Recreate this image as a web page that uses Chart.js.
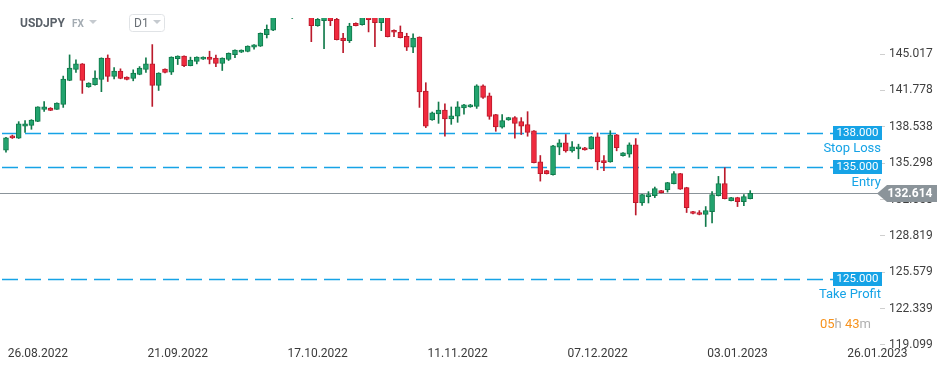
<!DOCTYPE html>
<html>
<head>
<meta charset="utf-8">
<script src="https://cdn.jsdelivr.net/npm/chart.js@4.4.0/dist/chart.umd.min.js"></script>
<style>
html, body { margin: 0; padding: 0; background: #fff; }
canvas { display: block; }
</style>
</head>
<body>
<canvas id="graficoUsdJpy" width="949" height="370"></canvas>
<script>
// velas diarias USDJPY
const opens = [136.45,137.73,137.52,138.59,138.67,139.03,140.10,140.22,140.10,140.54,
  142.67,143.65,144.15,142.09,142.29,142.76,144.66,143.03,143.51,142.97,
  142.85,143.20,143.65,144.15,142.23,143.68,143.42,144.62,144.84,144.00,
  144.36,144.57,144.75,144.66,144.18,144.54,144.98,145.19,145.25,145.64,
  145.73,146.76,147.15,148.70,149.30,148.80,149.60,150.10,149.50,147.56,
  148.00,148.50,148.12,146.44,146.22,147.77,147.64,148.30,148.50,147.82,
  148.50,147.15,146.97,146.61,145.64,146.53,141.73,139.15,139.69,140.04,
  139.24,139.49,140.22,140.31,140.36,142.20,141.31,139.62,138.50,139.15,
  139.36,139.00,138.74,138.18,135.42,134.63,134.27,136.72,137.11,136.40,
  136.58,136.67,136.58,137.64,135.54,135.41,137.83,135.96,136.10,136.93,
  131.75,132.32,132.40,132.85,132.94,133.47,134.36,133.12,130.98,130.90,
  130.72,130.98,132.40,133.47,131.96,132.23,131.87,132.14];
const highs = [137.60,137.80,139.00,139.09,139.18,140.33,140.78,140.25,140.68,143.06,
  144.95,144.51,144.18,142.47,143.53,144.69,144.95,143.83,143.71,143.00,
  143.62,143.91,144.69,145.87,143.36,143.71,144.78,144.87,144.87,144.75,
  144.78,144.78,145.28,144.93,144.69,145.13,145.40,145.40,145.76,145.87,
  146.91,147.62,149.00,149.90,150.20,150.00,150.50,151.90,151.50,148.20,
  148.90,148.80,148.90,146.88,147.77,147.80,148.70,148.60,148.90,148.70,
  148.90,147.18,147.53,146.88,146.82,146.56,142.47,139.86,140.75,140.58,
  140.31,140.78,140.54,140.54,142.29,142.29,141.55,139.65,139.62,139.39,
  139.45,139.36,139.89,138.21,135.98,134.66,136.88,137.40,137.85,137.23,
  136.99,136.70,137.67,138.00,135.97,138.19,137.86,136.25,137.11,137.49,
  132.52,132.76,133.17,132.88,133.59,134.54,134.39,133.15,131.01,131.07,
  131.43,132.76,134.12,134.89,132.26,132.26,132.49,132.85];
const lows = [136.28,137.50,137.50,138.05,138.32,139.00,139.92,139.98,140.08,140.27,
  142.65,143.38,141.52,142.06,142.26,141.67,142.58,142.82,142.82,142.73,
  142.64,143.18,143.38,140.36,141.78,143.35,143.20,144.09,143.91,143.97,
  144.15,144.54,144.15,143.91,143.56,144.45,144.71,145.16,145.22,145.46,
  145.70,146.46,147.12,148.50,148.60,148.20,148.90,149.00,146.13,147.50,
  145.51,147.56,146.28,145.16,146.05,147.53,147.60,147.00,145.69,147.11,
  146.55,146.58,146.46,145.34,145.16,140.27,138.47,139.12,138.85,137.70,
  138.76,138.94,139.67,140.28,140.18,141.07,139.21,138.14,138.41,139.12,
  137.52,137.85,137.70,135.31,133.70,134.33,134.24,136.05,136.28,136.28,
  135.69,136.46,136.55,134.71,134.63,135.38,136.40,135.93,135.83,130.68,
  131.54,131.75,132.23,132.64,132.72,133.44,132.96,130.90,130.78,130.69,
  129.65,129.97,132.37,132.11,131.93,131.43,131.52,132.11];
const closes = [137.56,137.56,138.80,138.80,139.15,140.31,140.31,140.01,140.66,142.80,
  143.77,144.15,142.67,142.44,142.88,144.66,143.03,143.51,142.85,142.76,
  143.33,143.77,144.15,142.23,143.33,143.38,144.75,144.84,144.00,144.48,
  144.75,144.75,144.54,144.18,144.66,145.10,145.37,145.37,145.73,145.84,
  146.88,147.24,148.70,149.50,149.90,149.60,150.10,150.50,147.56,148.12,
  148.60,148.00,146.31,146.22,147.53,147.56,148.40,148.09,147.82,148.40,
  146.58,146.97,146.49,145.64,146.44,141.64,138.59,139.78,140.04,139.24,
  139.51,140.31,140.51,140.51,142.20,141.16,139.47,138.53,139.09,139.36,
  138.85,138.59,138.05,135.34,134.36,134.36,136.85,137.11,136.40,136.76,
  136.76,136.49,137.64,135.42,135.34,137.83,136.67,136.22,136.93,131.78,
  132.49,132.49,133.03,132.67,133.56,134.36,132.99,131.34,130.81,130.72,
  131.07,132.49,133.47,132.14,132.23,131.87,132.32,132.614];

// etiquetas de fecha y su posicion (indice de vela)
const fechaIndices = [5, 27, 49, 71, 93, 115, 137];
const fechaLabels = ['26.08.2022', '21.09.2022', '17.10.2022', '11.11.2022', '07.12.2022', '03.01.2023', '26.01.2023'];

// ticks del eje de precios
const precioTicks = [119.099, 122.339, 125.579, 128.819, 132.058, 135.298, 138.538, 141.778, 145.017];

// niveles de la operacion
const nivelValores = [138.000, 135.000, 125.000];
const nivelNombres = ['Stop Loss', 'Entry', 'Take Profit'];
const precioActual = 132.614;

const VERDE = '#22a36e', VERDE_BORDE = '#117a4b';
const ROJO = '#f02a3e', ROJO_BORDE = '#bb1a2c';
const AZUL = '#16a3e6';
const GRIS = '#8b949a';
const FUENTE = 'Roboto, "Open Sans", sans-serif';

const indices = opens.map((o, i) => i);
const subida = i => closes[i] >= opens[i];

const overlay = {
    id: 'overlay',
    beforeDatasetsDraw(chart) {
        const { ctx, chartArea, scales: { y } } = chart;
        ctx.save();
        ctx.lineWidth = 1.3;
        ctx.strokeStyle = AZUL;
        ctx.setLineDash([16, 7]);
        nivelValores.forEach(v => {
            const py = Math.round(y.getPixelForValue(v)) + 0.5;
            ctx.beginPath();
            ctx.moveTo(chartArea.left + 2, py);
            ctx.lineTo(833, py);
            ctx.stroke();
        });
        ctx.setLineDash([]);
        ctx.lineWidth = 1;
        const cy = Math.round(y.getPixelForValue(precioActual)) + 0.5;
        ctx.strokeStyle = GRIS;
        ctx.beginPath();
        ctx.moveTo(chartArea.left, cy);
        ctx.lineTo(878, cy);
        ctx.stroke();
        ctx.restore();
    },
    afterDraw(chart) {
        const { ctx, scales: { y } } = chart;
        ctx.save();

        // cajas de niveles
        nivelValores.forEach((v, k) => {
            const py = Math.round(y.getPixelForValue(v));
            ctx.fillStyle = AZUL;
            ctx.fillRect(833, py - 7, 49, 14);
            ctx.fillStyle = '#fff';
            ctx.font = '11.5px ' + FUENTE;
            ctx.textAlign = 'center';
            ctx.textBaseline = 'middle';
            ctx.fillText(v.toFixed(3), 857.5, py + 0.5);
            ctx.fillStyle = AZUL;
            ctx.font = '13px ' + FUENTE;
            ctx.textAlign = 'right';
            ctx.fillText(nivelNombres[k], 881, py + 16);
        });

        // etiqueta precio actual
        const cy = Math.round(y.getPixelForValue(precioActual)) + 0.5;
        ctx.fillStyle = GRIS;
        ctx.beginPath();
        ctx.moveTo(877, cy);
        ctx.lineTo(887, cy - 8.5);
        ctx.lineTo(937, cy - 8.5);
        ctx.lineTo(937, cy + 8.5);
        ctx.lineTo(887, cy + 8.5);
        ctx.closePath();
        ctx.fill();
        ctx.fillStyle = '#fff';
        ctx.font = 'bold 12px ' + FUENTE;
        ctx.textAlign = 'center';
        ctx.textBaseline = 'middle';
        ctx.fillText(precioActual.toFixed(3), 910, cy + 0.5);

        // cabecera
        ctx.textAlign = 'left';
        ctx.fillStyle = '#5a6169';
        ctx.font = 'bold 12px ' + FUENTE;
        ctx.fillText('USDJPY', 20, 23.5);
        ctx.fillStyle = '#a3abb2';
        ctx.font = 'bold 10px ' + FUENTE;
        ctx.fillText('FX', 72, 24);
        ctx.fillStyle = '#c5cacf';
        ctx.beginPath();
        ctx.moveTo(89, 20); ctx.lineTo(97, 20); ctx.lineTo(93, 24); ctx.closePath();
        ctx.fill();
        ctx.strokeStyle = '#e0e3e6';
        ctx.lineWidth = 1;
        ctx.beginPath();
        ctx.roundRect(129.5, 14.5, 35, 17, 3);
        ctx.stroke();
        ctx.fillStyle = '#6a7076';
        ctx.font = '12px ' + FUENTE;
        ctx.fillText('D1', 134, 23.5);
        ctx.fillStyle = '#c5cacf';
        ctx.beginPath();
        ctx.moveTo(153, 20); ctx.lineTo(161, 20); ctx.lineTo(157, 24); ctx.closePath();
        ctx.fill();

        // contador
        const partes = [['05', '#f7931e'], ['h ', '#b0b0b0'], ['43', '#f7931e'], ['m', '#b0b0b0']];
        ctx.font = '13px ' + FUENTE;
        let ancho = partes.reduce((s, p) => s + ctx.measureText(p[0]).width, 0);
        let x = 871 - ancho;
        partes.forEach(p => {
            ctx.fillStyle = p[1];
            ctx.fillText(p[0], x, 325);
            x += ctx.measureText(p[0]).width;
        });
        ctx.restore();
    }
};

const ctx = document.getElementById('graficoUsdJpy').getContext('2d');
const chart = new Chart(ctx, {
    type: 'bar',
    data: {
        datasets: [{
            label: 'Mechas',
            data: indices.map(i => ({ x: i, y: [lows[i], highs[i]] })),
            backgroundColor: c => subida(c.dataIndex) ? VERDE_BORDE : ROJO_BORDE,
            barThickness: 1,
            grouped: false,
            order: 2
        }, {
            label: 'Cuerpos',
            data: indices.map(i => ({ x: i, y: [opens[i], closes[i]] })),
            backgroundColor: c => subida(c.dataIndex) ? VERDE : ROJO,
            borderColor: c => subida(c.dataIndex) ? VERDE_BORDE : ROJO_BORDE,
            borderWidth: 1,
            borderSkipped: false,
            barThickness: 5,
            grouped: false,
            order: 1
        }]
    },
    options: {
        responsive: false,
        animation: false,
        layout: { padding: { top: 18, left: 0, right: 0, bottom: 0 } },
        plugins: {
            legend: { display: false },
            tooltip: { enabled: false }
        },
        scales: {
            x: {
                type: 'linear',
                offset: false,
                min: -0.94,
                max: 137.4,
                grid: { display: false },
                border: { display: false },
                afterBuildTicks: s => { s.ticks = fechaIndices.map(v => ({ value: v })); },
                afterFit: s => { s.height = 24; },
                ticks: {
                    autoSkip: false,
                    maxRotation: 0,
                    padding: -6,
                    color: '#3a3a3a',
                    font: { family: FUENTE, size: 12, lineHeight: 1 },
                    callback: v => fechaLabels[fechaIndices.indexOf(v)]
                }
            },
            y: {
                position: 'right',
                min: 119.0,
                max: 148.24,
                grid: { drawOnChartArea: false, drawTicks: true, tickLength: 5, color: '#cfcfcf' },
                border: { display: false },
                afterBuildTicks: s => { s.ticks = precioTicks.map(v => ({ value: v })); },
                afterFit: s => { s.width = 69; },
                ticks: {
                    padding: 4,
                    color: '#3f3f3f',
                    font: { family: FUENTE, size: 12 },
                    callback: v => v.toFixed(3)
                }
            }
        }
    },
    plugins: [overlay]
});
</script>
</body>
</html>
